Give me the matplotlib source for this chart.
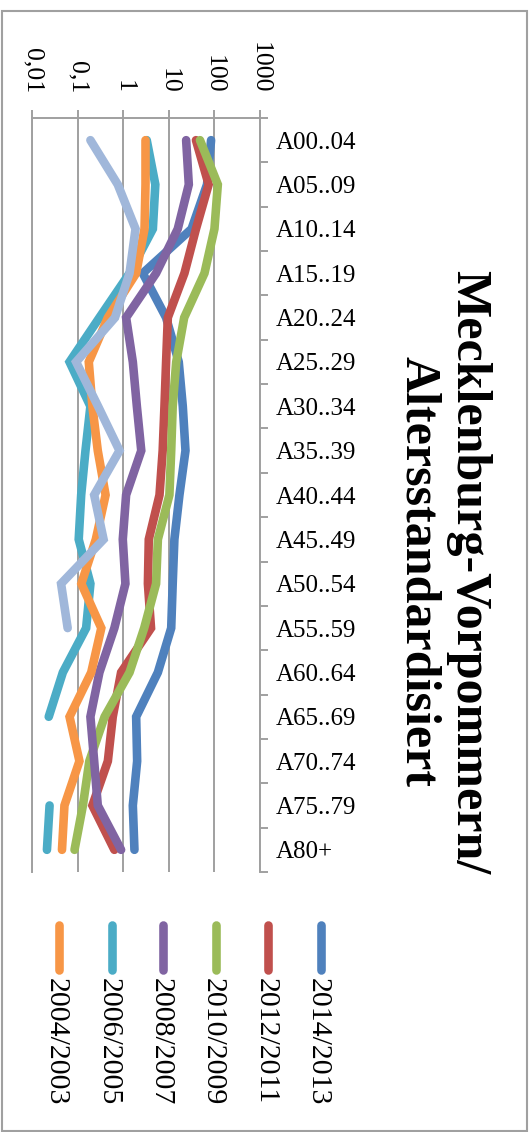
import matplotlib
matplotlib.use("Agg")
import matplotlib.pyplot as plt
import numpy as np
from matplotlib.lines import Line2D
from matplotlib.patches import Rectangle
from matplotlib.ticker import NullLocator

nan = np.nan

ages = ["A00..04", "A05..09", "A10..14", "A15..19", "A20..24", "A25..29",
        "A30..34", "A35..39", "A40..44", "A45..49", "A50..54", "A55..59",
        "A60..64", "A65..69", "A70..74", "A75..79", "A80+"]

labels = ["2014/2013", "2012/2011", "2010/2009", "2008/2007", "2006/2005", "2004/2003"]

rate_2014 = [86, 70, 32, 2.7, 8.8, 16.7, 20.5, 23.5, 17.3, 13.4, 12.3, 11.4, 5.8, 1.93, 2.03, 1.63, 1.77]
rate_2012 = [40, 76, 40, 22.3, 9.6, 8.8, 8.1, 7.4, 6.3, 3.66, 3.5, 4.1, 0.90, 0.59, 0.46, 0.21, 0.64]
rate_2010 = [49, 121, 102, 61.5, 22, 14.7, 12.3, 11.4, 10.4, 5.8, 5.3, 2.9, 1.38, 0.39, 0.18, 0.13, 0.085]
rate_2008 = [24.3, 27.8, 15.9, 5.3, 1.16, 1.63, 2.0, 2.5, 1.16, 0.98, 1.12, 0.64, 0.30, 0.19, 0.23, 0.276, 0.90]
rate_2006 = [3.3, 5.1, 4.5, 1.38, 0.30, 0.066, 0.19, 0.148, 0.119, 0.105, 0.19, 0.153, 0.047, 0.023, nan, 0.024, 0.021]
rate_2004 = [3.1, 3.1, 2.95, 1.93, 0.46, 0.175, 0.21, 0.276, 0.41, 0.25, 0.12, 0.33, 0.198, 0.066, 0.109, 0.051, 0.045]
rate_extra = [0.19, 0.76, 1.87, 1.38, 0.66, 0.092, 0.28, 0.83, 0.23, 0.37, 0.043, 0.06, nan, nan, nan, nan, nan]

colors = ["#4F81BD", "#C0504D", "#9BBB59", "#8064A2", "#4BACC6", "#F79646", "#A0B7DA"]
series = [rate_2014, rate_2012, rate_2010, rate_2008, rate_2006, rate_2004, rate_extra]

W, H = 531, 1132
grey = "#A0A0A0"
serif = "Liberation Serif"


def fx(x):
    return x / W


def fy(y):
    return 1 - y / H


fig = plt.figure(figsize=(W / 100, H / 100), dpi=100)
ax = fig.add_axes([fx(32.3), fy(872), fx(259.5 - 32.3), (872 - 118) / H])

pos = np.arange(len(ages))
for vals, c in zip(series, colors):
    ax.plot(vals, pos, color=c, lw=6.2, solid_capstyle="round", solid_joinstyle="miter")

# value axis (log) runs across, on top
ax.set_xscale("log")
ax.set_xlim(0.01, 1000)
ax.xaxis.set_ticks_position("top")
ax.set_xticks([0.01, 0.1, 1, 10, 100, 1000])
ax.set_xticklabels(["0,01", "0,1", "1", "10", "100", "1000"], family=serif)
ax.xaxis.set_minor_locator(NullLocator())
ax.tick_params(axis="x", which="major", direction="out", length=5.8, width=1.4,
               color=grey, labelsize=18.5, pad=12, labelrotation=-90)
ax.grid(axis="x", which="major", color=grey, lw=1.4)

# age groups run downwards, labels on the right
ax.set_ylim(len(ages) - 0.5, -0.5)
ax.set_yticks(np.arange(-0.5, len(ages), 1.0))
ax.set_yticklabels([])
ax.set_yticks(pos, minor=True)
ax.set_yticklabels(ages, minor=True, family=serif)
ax.tick_params(axis="y", which="both", left=False, right=True, labelleft=False, labelright=True)
ax.tick_params(axis="y", which="major", direction="out", length=5.8, width=1.4, color=grey)
ax.tick_params(axis="y", which="minor", length=0, labelsize=18, pad=12)

for side in ["top", "right", "left"]:
    ax.spines[side].set_color(grey)
    ax.spines[side].set_linewidth(1.4)
ax.spines["bottom"].set_visible(False)

fig.text(fx(443), fy(572), "Mecklenburg-Vorpommern/\nAltersstandardisiert",
         rotation=-90, ha="center", va="center", multialignment="center",
         fontsize=36, fontweight="bold", family=serif, linespacing=1.1)

# legend, turned with the chart
leg_x = [320.7, 268.3, 216, 163.3, 111.7, 59]
for lx, lab, c in zip(leg_x, labels, colors):
    fig.add_artist(Line2D([fx(lx), fx(lx)], [fy(925), fy(970)], color=c, lw=6.2,
                          solid_capstyle="round"))
    fig.text(fx(lx - 3), fy(978), lab, rotation=-90, ha="center", va="top",
             fontsize=21.5, family=serif)

fig.add_artist(Rectangle((fx(2), fy(1131)), fx(525), (1131 - 11) / H, fill=False,
                         edgecolor=grey, lw=1.5))

fig.savefig("out.png", dpi=100)
